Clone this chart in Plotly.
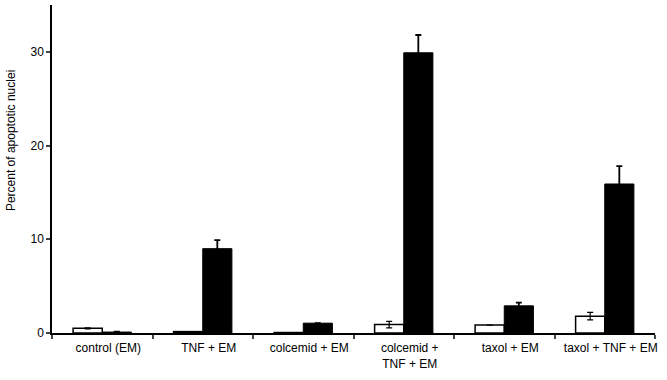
import plotly.graph_objects as go

categories = ["control (EM)", "TNF + EM", "colcemid + EM", "colcemid +<br>TNF + EM", "taxol + EM", "taxol + TNF + EM"]
white_values = [0.5, 0.15, 0.05, 0.9, 0.85, 1.8]
white_errors = [0.05, 0.0, 0.0, 0.35, 0.0, 0.4]
black_values = [0.1, 9.0, 1.05, 29.9, 2.9, 15.9]
black_errors = [0.05, 0.9, 0.0, 1.9, 0.35, 1.9]
y_ticks = [0, 10, 20, 30]
y_title = "Percent of apoptotic nuclei"

fig = go.Figure()
fig.add_trace(go.Bar(
    x=categories, y=white_values, name="white",
    marker=dict(color="white", line=dict(color="black", width=1.5)),
    error_y=dict(type="data", array=white_errors, color="black", thickness=1.2, width=3),
))
fig.add_trace(go.Bar(
    x=categories, y=black_values, name="black",
    marker=dict(color="black", line=dict(color="black", width=1)),
    error_y=dict(type="data", array=black_errors, color="black", thickness=1.8, width=3),
))

fig.update_layout(
    width=667, height=380,
    margin=dict(l=52, r=12, t=5, b=47),
    paper_bgcolor="white", plot_bgcolor="white",
    barmode="group", bargap=0.42, bargroupgap=0,
    showlegend=False,
    font=dict(family="Liberation Sans, Arial, sans-serif", size=12, color="black"),
)
fig.add_annotation(
    text=y_title, xref="paper", yref="paper", x=0, y=0.585,
    xshift=-50, textangle=-90, showarrow=False, font=dict(size=12),
)
fig.update_xaxes(
    type="category", tickson="boundaries", ticks="outside", ticklen=4, tickwidth=1.5,
    showline=True, linecolor="black", linewidth=1.5, showgrid=False,
    tickfont=dict(size=12), tickangle=0, automargin=False,
    ticklabelshift=6, ticklabelstandoff=3,
)
fig.update_yaxes(
    range=[0, 35], tickvals=y_ticks, ticks="outside", ticklen=4, tickwidth=1.5,
    showline=True, linecolor="black", linewidth=1.5, showgrid=False, zeroline=False,
    tickfont=dict(size=12), automargin=False,
)

fig.write_html("out.html", config={"displayModeBar": False},
               post_script="document.body.style.margin='0';document.body.style.overflow='hidden';")
